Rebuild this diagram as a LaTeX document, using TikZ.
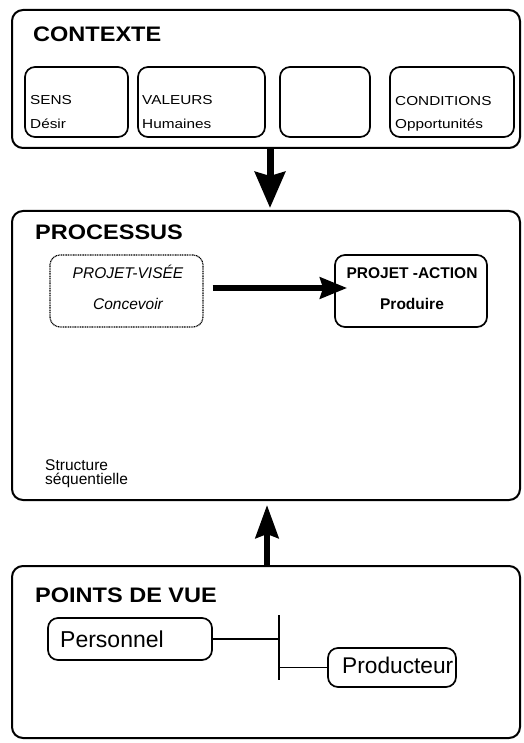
\documentclass[tikz,border=0pt]{standalone}
\usepackage{fontspec}
\setmainfont{Liberation Sans}
\newfontfamily\wideA[FakeStretch=1.12]{Liberation Sans}
\newfontfamily\wideB[FakeStretch=1.18]{Liberation Sans}
\usetikzlibrary{arrows.meta}
\begin{document}
\begin{tikzpicture}[x=1pt,y=-1pt,
  outer/.style={draw, line width=2pt, rounded corners=11pt, inner sep=0pt},
  inner/.style={draw, line width=1.7pt, rounded corners=10pt, inner sep=0pt},
  dotbox/.style={draw, line width=1.2pt, dash pattern=on 1pt off 0.7pt, rounded corners=10pt, inner sep=0pt},
  titletext/.style={anchor=base west, inner sep=0pt, font=\wideA\fontsize{21}{21}\selectfont\bfseries},
  smalltext/.style={anchor=base west, inner sep=0pt, font=\wideB\fontsize{13}{13}\selectfont},
  midtext/.style={anchor=base, inner sep=0pt, font=\fontsize{15.5}{15.5}\selectfont},
  bigtext/.style={anchor=base west, inner sep=0pt, font=\fontsize{23}{23}\selectfont},
  plaintext/.style={anchor=base west, inner sep=0pt, font=\fontsize{15.5}{15.5}\selectfont},
  conn/.style={line width=1.9pt},
]
\useasboundingbox (0,0) rectangle (523,743);

% outer boxes
\node[outer, minimum width=508pt, minimum height=138pt] (ctx) at (266,79) {};
\node[outer, minimum width=508pt, minimum height=289pt] (proc) at (266,355.5) {};
\node[outer, minimum width=508pt, minimum height=172pt] (pv) at (266,652) {};

% titles
\node[titletext] (tctx) at (33,42) {CONTEXTE};
\node[titletext] (tproc) at (35,240) {PROCESSUS};
\node[titletext] (tpv) at (35,602) {POINTS DE VUE};

% context inner boxes
\node[inner, minimum width=103pt, minimum height=70pt] (sens) at (76.5,102) {};
\node[inner, minimum width=127pt, minimum height=70pt] (val) at (201.5,102) {};
\node[inner, minimum width=90pt, minimum height=70pt] (empty) at (325,102) {};
\node[inner, minimum width=124pt, minimum height=70pt] (cond) at (452,102) {};

\node[smalltext] (sens1) at (30,105) {SENS};
\node[smalltext] (sens2) at (30,129) {Désir};
\node[smalltext] (val1) at (142,105) {VALEURS};
\node[smalltext] (val2) at (142,129) {Humaines};
\node[smalltext] (cond1) at (395,106) {CONDITIONS};
\node[smalltext] (cond2) at (395,129) {Opportunités};

% processus inner boxes
\node[dotbox, minimum width=153pt, minimum height=72pt] (visee) at (126.5,291) {};
\node[inner, minimum width=152pt, minimum height=72pt] (action) at (411,291) {};

\node[midtext, font=\fontsize{15.5}{15.5}\selectfont\itshape] (visee1) at (128,278) {PROJET-VISÉE};
\node[midtext, font=\fontsize{15.5}{15.5}\selectfont\itshape] (visee2) at (128,309) {Concevoir};
\node[midtext, font=\fontsize{15.5}{15.5}\selectfont\bfseries] (action1) at (412,278) {PROJET -ACTION};
\node[midtext, font=\fontsize{15.5}{15.5}\selectfont\bfseries] (action2) at (412,309) {Produire};

\node[plaintext] (struct1) at (45,470) {Structure};
\node[plaintext] (struct2) at (45,484) {séquentielle};

% arrows between big boxes
\draw[line width=7pt, -{Stealth[length=36pt,width=30pt,inset=4pt]}]
  ([xshift=4pt]ctx.south) -- ([xshift=4pt,yshift=2pt]proc.north);
\draw[line width=6pt, -{Stealth[length=33pt,width=23pt,inset=4pt]}]
  ([xshift=1pt]pv.north) -- ([xshift=1pt,yshift=-4pt]proc.south);
\draw[line width=6.5pt, -{Stealth[length=27pt,width=21pt,inset=3pt]}]
  ([xshift=9pt,yshift=3pt]visee.east) -- ([xshift=13pt,yshift=3pt]action.west);

% points de vue
\node[inner, minimum width=164pt, minimum height=42pt] (pers) at (130,639) {};
\node[inner, minimum width=128pt, minimum height=39pt] (prod) at (392,667.5) {};
\node[bigtext] (perst) at (60,647) {Personnel};
\node[bigtext, font=\fontsize{22.7}{22.7}\selectfont] (prodt) at (342,673) {Producteur};

\coordinate (bt) at (279,615);
\coordinate (bb) at (279,680);
\draw[conn] (bt) -- (bb);
\draw[conn] (pers.east) -- (pers.east -| bt);
\draw[conn] (bb |- prod.west) -- (prod.west);
\end{tikzpicture}
\end{document}
